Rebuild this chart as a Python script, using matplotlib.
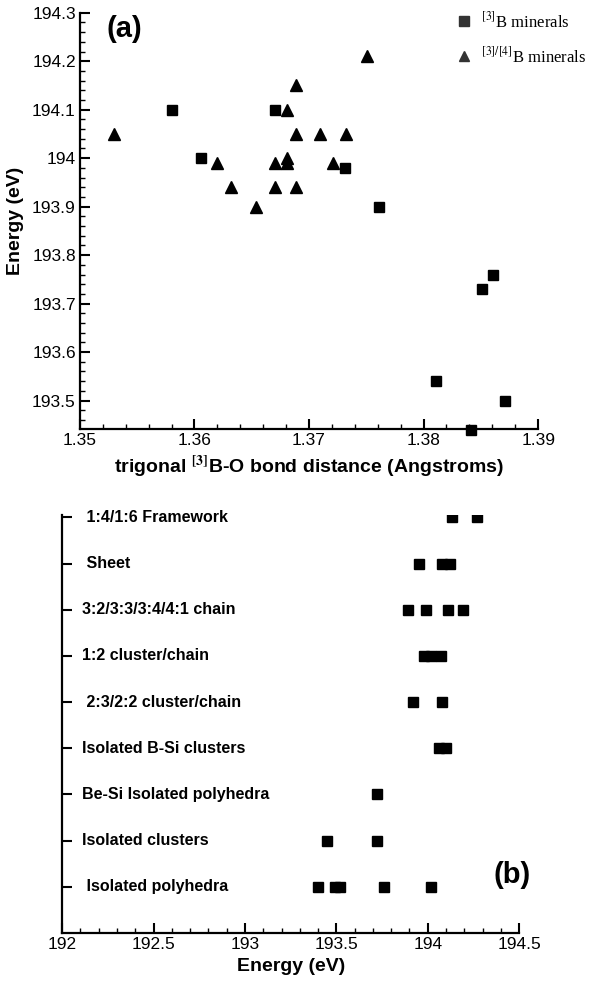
import matplotlib
matplotlib.use('Agg')
import matplotlib.pyplot as plt
from matplotlib.lines import Line2D
from matplotlib.ticker import MultipleLocator, FormatStrFormatter

plt.rcParams['font.family'] = ['Liberation Sans', 'DejaVu Sans']
plt.rcParams['mathtext.fontset'] = 'stix'

# (a) trigonal B-O distance vs energy
b3_dist = [1.358, 1.3606, 1.367, 1.3731, 1.3761, 1.3811, 1.3841, 1.3851, 1.3861, 1.3871]
b3_energy = [194.10, 194.00, 194.10, 193.98, 193.90, 193.54, 193.44, 193.73, 193.76, 193.50]

b34_dist = [1.353, 1.362, 1.3632, 1.3654, 1.367, 1.367, 1.3681, 1.3681, 1.3681,
            1.3689, 1.3689, 1.3689, 1.371, 1.3721, 1.3732, 1.3751]
b34_energy = [194.05, 193.99, 193.94, 193.90, 193.99, 193.94, 194.10, 194.00, 193.99,
              194.15, 194.05, 193.94, 194.05, 193.99, 194.05, 194.21]

# (b) energy by structure type (bottom to top)
categories = [' Isolated polyhedra', 'Isolated clusters', 'Be-Si Isolated polyhedra',
              'Isolated B-Si clusters', ' 2:3/2:2 cluster/chain', '1:2 cluster/chain',
              '3:2/3:3/3:4/4:1 chain', ' Sheet', ' 1:4/1:6 Framework']
cat_energies = [
    [193.40, 193.49, 193.52, 193.76, 194.02],
    [193.45, 193.72],
    [193.72],
    [194.06, 194.10],
    [193.92, 194.08],
    [193.98, 194.02, 194.07],
    [193.89, 193.99, 194.11, 194.19],
    [193.95, 194.08, 194.12],
    [194.13, 194.27],
]

fig = plt.figure(figsize=(5.92, 9.81), dpi=100)


def style_axes(ax):
    for s in ['top', 'right']:
        ax.spines[s].set_visible(False)
    for s in ['left', 'bottom']:
        ax.spines[s].set_linewidth(1.6)
    ax.tick_params(which='both', direction='in', top=False, right=False, labelsize=12.5)
    ax.tick_params(which='major', length=7, width=1.5, pad=3)
    ax.tick_params(which='minor', length=3.5, width=1)


# ---- panel (a)
ax1 = fig.add_axes([0.135, 0.563, 0.774, 0.424])
ax1.plot(b3_dist, b3_energy, 's', color='black', markersize=7.5, clip_on=False)
ax1.plot(b34_dist, b34_energy, '^', color='black', markersize=8.5, clip_on=False)
ax1.set_xlim(1.35, 1.39)
ax1.set_ylim(193.442, 194.3)
ax1.xaxis.set_major_locator(MultipleLocator(0.01))
ax1.xaxis.set_minor_locator(MultipleLocator(0.002))
ax1.yaxis.set_major_locator(MultipleLocator(0.1))
ax1.yaxis.set_minor_locator(MultipleLocator(0.02))
ax1.xaxis.set_major_formatter(FormatStrFormatter('%g'))
ax1.yaxis.set_major_formatter(FormatStrFormatter('%g'))
style_axes(ax1)
ax1.set_xlabel(r'trigonal $^{\mathbf{[3]}}$B-O bond distance (Angstroms)',
               fontsize=14, fontweight='bold', labelpad=4)
ax1.set_ylabel('Energy (eV)', fontsize=14, fontweight='bold')
ax1.yaxis.set_label_coords(-0.122, 0.5)
ax1.text(0.057, 0.96, '(a)', transform=ax1.transAxes, fontsize=21,
         fontweight='bold', va='center', ha='left')

handles = [Line2D([], [], marker='s', ls='none', color='#333333', markersize=6.5),
           Line2D([], [], marker='^', ls='none', color='#333333', markersize=7.5)]
ax1.legend(handles, [r'$^{[3]}$B minerals', r'$^{[3]/[4]}$B minerals'],
           loc='upper left', bbox_to_anchor=(0.795, 1.02), frameon=False,
           prop={'family': 'Liberation Serif', 'size': 12},
           labelspacing=0.9, handletextpad=0.2, handlelength=1.6, borderaxespad=0.0)

# ---- panel (b)
ax2 = fig.add_axes([0.105, 0.049, 0.772, 0.426])
for i, vals in enumerate(cat_energies):
    ax2.plot(vals, [i + 1] * len(vals), 's', color='black', markersize=7.5)
ax2.set_xlim(192, 194.5)
ax2.set_ylim(0, 9.05)
ax2.xaxis.set_major_locator(MultipleLocator(0.5))
ax2.xaxis.set_minor_locator(MultipleLocator(0.1))
ax2.xaxis.set_major_formatter(FormatStrFormatter('%g'))
ax2.set_yticks(range(1, len(categories) + 1))
ax2.set_yticklabels([])
style_axes(ax2)
for i, name in enumerate(categories):
    ax2.annotate(name, xy=(0, i + 1), xycoords=('axes fraction', 'data'),
                 xytext=(14.5, 0), textcoords='offset points',
                 fontsize=11.5, fontweight='bold', va='center', ha='left')
ax2.set_xlabel('Energy (eV)', fontsize=14, fontweight='bold', labelpad=4)
ax2.text(0.985, 0.139, '(b)', transform=ax2.transAxes, fontsize=21,
         fontweight='bold', va='center', ha='center')

fig.savefig('out.png', dpi=100)
